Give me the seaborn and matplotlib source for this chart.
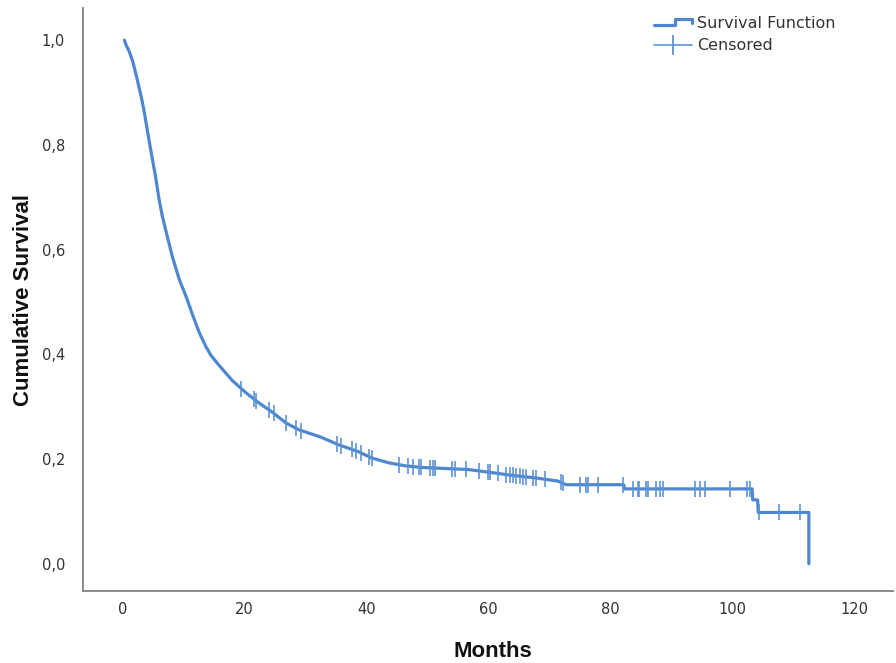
import numpy as np
import pandas as pd
import matplotlib
matplotlib.use("Agg")
import matplotlib.pyplot as plt
import seaborn as sns
from matplotlib.lines import Line2D
from matplotlib.legend_handler import HandlerBase

# ---- data (vertices of the survival curve) ----
curve_months = [0.3, 0.6, 1.1, 1.7, 2.3, 3.1, 3.6, 4.1, 4.7, 5.4, 6.0, 6.5, 7.4, 8.2,
                9.3, 10.5, 11.4, 12.6, 13.7, 14.5, 15.9, 18.0, 20.3, 22.4, 24.5,
                26.8, 28.9, 32.5, 35.5, 38.7, 40.9, 43.6, 46.4, 49.0, 56.7, 60.0,
                63.8, 67.7, 71.4, 72.8, 82.2, 82.4, 103.3, 103.4, 104.2, 104.3,
                112.6, 112.6]
curve_survival = [1.0, 0.99, 0.978, 0.958, 0.93, 0.89, 0.86, 0.825, 0.785, 0.74,
                  0.695, 0.665, 0.622, 0.585, 0.543, 0.508, 0.478, 0.441, 0.414,
                  0.398, 0.378, 0.350, 0.326, 0.307, 0.29, 0.269, 0.256, 0.242,
                  0.227, 0.214, 0.202, 0.193, 0.187, 0.184, 0.180, 0.175, 0.169,
                  0.164, 0.158, 0.151, 0.151, 0.143, 0.143, 0.122, 0.122, 0.098,
                  0.098, 0.0]
censored_months = [19.5, 21.6, 21.9, 24.0, 24.8, 26.8, 28.4, 29.3, 35.1, 35.8, 37.6,
                   38.3, 39.1, 40.4, 40.9, 45.3, 46.9, 47.7, 48.6, 49.0, 50.5, 51.0,
                   51.3, 54.0, 54.6, 56.4, 58.4, 60.0, 60.3, 61.6, 62.9, 63.6, 64.1,
                   64.6, 65.2, 65.7, 66.2, 67.4, 67.8, 69.3, 71.9, 72.3, 75.0, 76.0,
                   76.3, 78.0, 82.1, 83.7, 84.5, 84.8, 85.8, 86.2, 87.5, 88.1, 88.6,
                   94.0, 94.8, 95.5, 99.7, 102.5, 103.0, 104.5, 107.7, 111.2]
x_ticks = [0, 20, 40, 60, 80, 100, 120]
y_ticks = [0.0, 0.2, 0.4, 0.6, 0.8, 1.0]
y_tick_labels = ["0,0", "0,2", "0,4", "0,6", "0,8", "1,0"]

LINE_C = "#4f87cf"
CENS_C = "#5b93d6"

km = pd.DataFrame({"Months": curve_months, "Survival": curve_survival})
cens = pd.DataFrame({
    "Months": censored_months,
    "Survival": np.interp(censored_months, curve_months[:-1], curve_survival[:-1]),
})

sns.set_theme(style="white")
plt.rcParams["font.family"] = ["DejaVu Sans"]

fig = plt.figure(figsize=(8.96, 6.63), dpi=100)
ax = fig.add_axes([0.0926, 0.1086, 0.904, 0.879])

sns.lineplot(data=km, x="Months", y="Survival", color=LINE_C, linewidth=2.3,
             ax=ax, estimator=None, sort=False)
ax.plot(cens["Months"], cens["Survival"], linestyle="none", marker="|",
        markersize=11, markeredgewidth=1.4, color=CENS_C, alpha=0.85)

ax.set_xlim(-6.5, 126.4)
ax.set_ylim(-0.052, 1.061)
ax.set_xticks(x_ticks)
ax.set_xticklabels([str(v) for v in x_ticks])
ax.set_yticks(y_ticks)
ax.set_yticklabels(y_tick_labels)
ax.tick_params(axis="both", length=0, labelsize=10.5, labelcolor="#333333")
ax.tick_params(axis="y", pad=13)
ax.tick_params(axis="x", pad=8)

for side in ["top", "right"]:
    ax.spines[side].set_visible(False)
for side in ["left", "bottom"]:
    ax.spines[side].set_color("#8a8a8a")
    ax.spines[side].set_linewidth(1.4)

ax.set_xlabel("Months", fontsize=16, fontweight="bold", family="Liberation Sans",
              color="#111111")
ax.set_ylabel("Cumulative Survival", fontsize=16, fontweight="bold",
              family="Liberation Sans", color="#111111")
ax.xaxis.set_label_coords(0.506, -0.086)
ax.yaxis.set_label_coords(-0.060, 0.5)


class StepHandler(HandlerBase):
    def create_artists(self, legend, orig_handle, xdescent, ydescent, width,
                       height, fontsize, trans):
        xs = [0 - xdescent, 0.55 * width - xdescent, 0.55 * width - xdescent,
              width - xdescent, width - xdescent]
        ys = [0.25 * height, 0.25 * height, 0.85 * height, 0.85 * height,
              0.45 * height]
        ln = Line2D(xs, ys, color=LINE_C, linewidth=2.3, transform=trans)
        return [ln]


h_surv = Line2D([0], [0], color=LINE_C, linewidth=2.0)
h_cens = Line2D([0], [0], color=CENS_C, linewidth=1.2, marker="|",
                markersize=14, markeredgewidth=1.3)
leg = ax.legend([h_surv, h_cens], ["Survival Function", "Censored"],
                handler_map={h_surv: StepHandler()},
                loc="upper left", bbox_to_anchor=(0.695, 1.0), frameon=False,
                fontsize=11.5, handlelength=2.4, handletextpad=0.3,
                labelspacing=0.45, borderaxespad=0.1)
for t in leg.get_texts():
    t.set_color("#333333")

fig.savefig("out.png", dpi=100)
